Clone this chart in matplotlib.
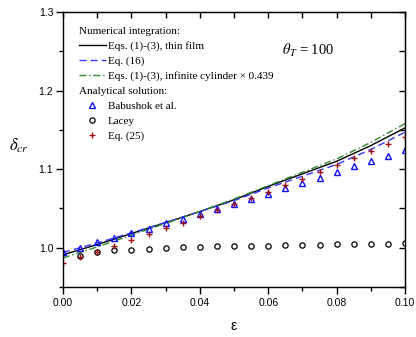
import matplotlib
matplotlib.use("Agg")
import matplotlib.pyplot as plt
import numpy as np

# ---------------- data ----------------
eps_line = [0.00, 0.01, 0.02, 0.03, 0.04, 0.05, 0.06, 0.07, 0.08, 0.09, 0.10]
thin_film = [0.991, 1.004, 1.018, 1.032, 1.046, 1.061, 1.078, 1.094, 1.110, 1.130, 1.1525]
eq16 = [0.994, 1.006, 1.019, 1.032, 1.046, 1.060, 1.076, 1.091, 1.106, 1.125, 1.147]
cylinder = [0.987, 1.001, 1.016, 1.031, 1.046, 1.062, 1.079, 1.096, 1.113, 1.134, 1.158]

eps_pts = [0.000, 0.005, 0.010, 0.015, 0.020, 0.025, 0.030, 0.035, 0.040, 0.045, 0.050,
           0.055, 0.060, 0.065, 0.070, 0.075, 0.080, 0.085, 0.090, 0.095, 0.100]
babushok = [0.994, 1.000, 1.007, 1.012, 1.019, 1.024, 1.031, 1.036, 1.043, 1.049, 1.056,
            1.062, 1.069, 1.076, 1.082, 1.089, 1.096, 1.104, 1.110, 1.117, 1.125]
eps_lacey = [0.005, 0.010, 0.015, 0.020, 0.025, 0.030, 0.035, 0.040, 0.045, 0.050,
             0.055, 0.060, 0.065, 0.070, 0.075, 0.080, 0.085, 0.090, 0.095, 0.100]
lacey = [0.990, 0.994, 0.9966, 0.9975, 0.9987, 0.9996, 1.0004, 1.0009, 1.0017, 1.0020,
         1.0024, 1.0028, 1.0032, 1.0036, 1.0040, 1.0044, 1.0047, 1.0050, 1.0052, 1.0055]
eq25 = [0.981, 0.988, 0.994, 1.0025, 1.0098, 1.017, 1.0246, 1.032, 1.040, 1.0475, 1.056,
        1.063, 1.071, 1.080, 1.088, 1.0964, 1.105, 1.114, 1.123, 1.132, 1.1405]

xticks = [0.00, 0.02, 0.04, 0.06, 0.08, 0.10]
xticklabels = ["0.00", "0.02", "0.04", "0.06", "0.08", "0.10"]
yticks = [1.0, 1.1, 1.2, 1.3]
yticklabels = ["1.0", "1.1", "1.2", "1.3"]

# ---------------- style ----------------
plt.rcParams['mathtext.fontset'] = 'stix'
serif = 'Liberation Serif'
sans = 'Liberation Sans'

c_blue = '#3535ff'
c_green = '#2e8b2e'
c_red = '#a01010'

fig = plt.figure(figsize=(4.16, 3.37), dpi=100)
ax = fig.add_axes([63/416, 1-287/337, (405-63)/416, (287-12)/337])

l1, = ax.plot(eps_line, thin_film, color='black', lw=1.0, label='Eqs. (1)-(3), thin film')
l2, = ax.plot(eps_line, eq16, color=c_blue, lw=1.0, ls=(0, (5, 3)), label='Eq. (16)')
l3, = ax.plot(eps_line, cylinder, color=c_green, lw=1.0, ls=(0, (5, 2, 1, 2)),
              label='Eqs. (1)-(3), infinite cylinder \u00d7 0.439')
m1, = ax.plot(eps_pts, babushok, ls='none', marker='^', ms=4.2, mfc='none', mec='#1010ff',
              mew=1.0, label='Babushok et al.')
m2, = ax.plot(eps_lacey, lacey, ls='none', marker='o', ms=3.8, mfc='none', mec='black',
              mew=0.9, label='Lacey')
m3, = ax.plot(eps_pts, eq25, ls='none', marker='+', ms=4.5, mec=c_red, mew=1.0, label='Eq. (25)')

ax.set_xlim(0, 0.10)
ax.set_ylim(0.95, 1.3)
ax.set_xticks(xticks)
ax.set_xticklabels(xticklabels, fontfamily=sans, fontsize=7.5)
ax.set_xticks(np.arange(0.0, 0.1001, 0.01), minor=True)
ax.set_yticks(yticks)
ax.set_yticklabels(yticklabels, fontfamily=sans, fontsize=7.5)
ax.set_yticks([0.95, 1.05, 1.15, 1.25], minor=True)
ax.tick_params(which='major', direction='out', length=5, width=1.0, pad=2)
ax.tick_params(axis='x', which='major', pad=3)
ax.tick_params(which='minor', direction='out', length=3, width=1.0)
for s in ax.spines.values():
    s.set_linewidth(1.0)

# mirrored inward ticks on top and right
axt = ax.secondary_xaxis('top')
axt.set_xticks(xticks)
axt.set_xticks(np.arange(0.0, 0.1001, 0.01), minor=True)
axt.tick_params(which='both', direction='in', length=4, width=1.0, labeltop=False)
axr = ax.secondary_yaxis('right')
axr.set_yticks(yticks)
axr.set_yticks([0.95, 1.05, 1.15, 1.25], minor=True)
axr.tick_params(which='both', direction='in', length=4, width=1.0, labelright=False)

ax.set_xlabel('\u03b5', fontfamily=sans, fontsize=10, labelpad=8)
ax.set_ylabel(r'$\delta_{cr}$', fontsize=12, rotation=0, labelpad=14, va='center')
ax.yaxis.set_label_coords(-0.13, 0.515)

ax.text(0.64, 0.86, r'$\theta_T$ = 100', transform=ax.transAxes, fontfamily=serif,
        fontsize=10.5, ha='left', va='center')

leg_kw = dict(frameon=False, alignment='left', prop={'family': serif, 'size': 8},
              title_fontproperties={'family': serif, 'size': 8}, handlelength=2.4,
              handletextpad=0.2, labelspacing=0.45, borderpad=0, borderaxespad=0)
leg1 = ax.legend(handles=[l1, l2, l3], title='Numerical integration:', loc='upper left',
                 bbox_to_anchor=(0.047, 0.944), **leg_kw)
ax.add_artist(leg1)
leg2 = ax.legend(handles=[m1, m2, m3], title='Analytical solution:', loc='upper left',
                 bbox_to_anchor=(0.047, 0.727), **leg_kw)

fig.savefig('out.png', dpi=100)
